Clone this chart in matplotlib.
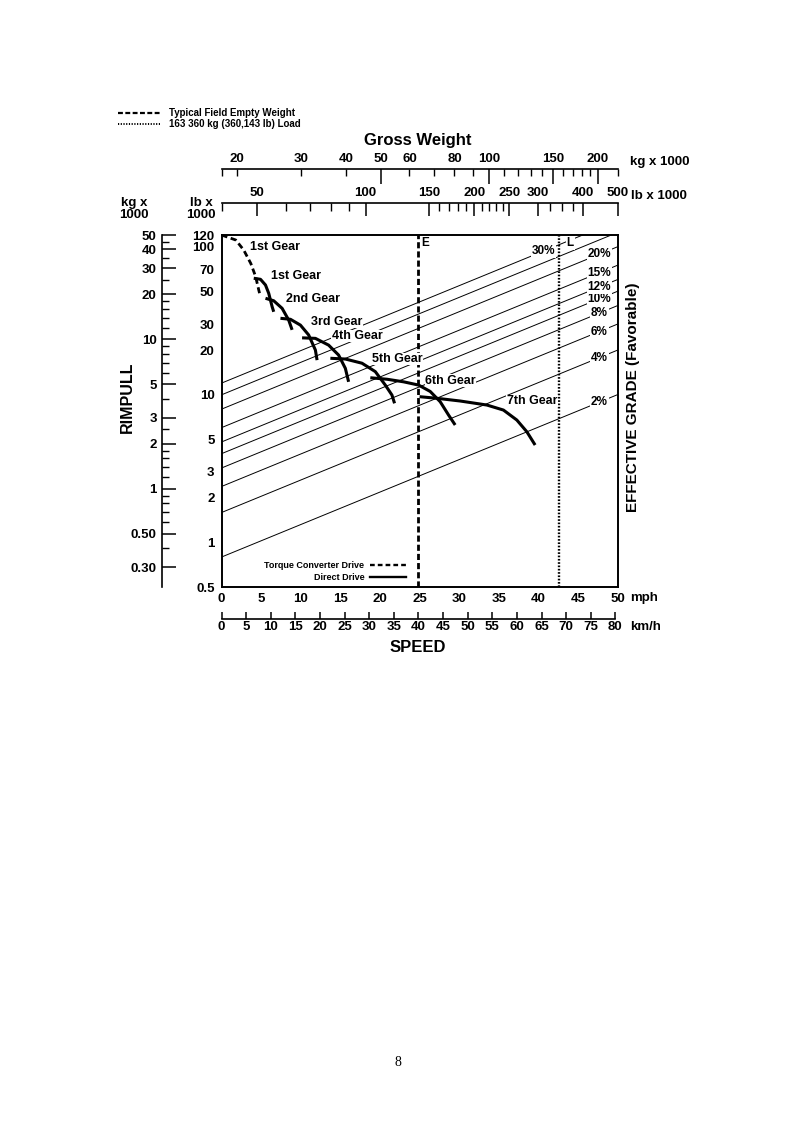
import matplotlib
matplotlib.use("Agg")
import matplotlib.pyplot as plt
from matplotlib import font_manager
from matplotlib.lines import Line2D
from matplotlib.ticker import FixedLocator, FixedFormatter, NullFormatter, NullLocator

# use a narrow face when one is installed
_names = {f.name for f in font_manager.fontManager.ttflist}
FONT = "Liberation Sans Narrow" if "Liberation Sans Narrow" in _names else "Liberation Sans"
plt.rcParams["font.family"] = [FONT, "DejaVu Sans"]
plt.rcParams["font.weight"] = "bold"

KG_PER_LB = 0.45359
KMH_PER_MPH = 1.609344

# speed scales
MPH_LIM = (0, 50)
MPH_TICKS = [0, 5, 10, 15, 20, 25, 30, 35, 40, 45, 50]
KMH_TICKS = list(range(0, 85, 5))

# rimpull scales (x 1000)
RIMPULL_LB_LIM = (0.5, 120)
RIMPULL_LB_TICKS = [0.5, 1, 2, 3, 5, 10, 20, 30, 50, 70, 100, 120]
RIMPULL_LB_LABELS = ["0.5", "1", "2", "3", "5", "10", "20", "30", "50", "70", "100", "120"]
RIMPULL_KG_LIM = (0.221, 50)
RIMPULL_KG_TICKS = [0.3, 0.5, 1, 2, 3, 5, 10, 20, 30, 40, 50]
RIMPULL_KG_LABELS = ["0.30", "0.50", "1", "2", "3", "5", "10", "20", "30", "40", "50"]
RIMPULL_KG_MINOR = [0.4, 0.6, 0.7, 0.8, 0.9, 1.2, 1.4, 1.6, 1.8, 2.5, 4, 6, 7, 8, 9,
                    12, 14, 16, 18, 25, 35, 45]

# gross weight scales (x 1000)
GW_LB_LIM = (39.85, 500)
GW_KG_LIM = (GW_LB_LIM[0] * KG_PER_LB, GW_LB_LIM[1] * KG_PER_LB)
GW_KG_LONG = [50, 100, 150, 200]
GW_KG_SHORT = [20, 30, 40, 60, 70, 80, 90, 110, 120, 130, 140, 160, 170, 180, 190]
GW_KG_SHORT_LABELED = [20, 30, 40, 60, 80]
GW_LB_LONG = [50, 100, 150, 200, 250, 300, 400, 500]
GW_LB_SHORT = [60, 70, 80, 90, 160, 170, 180, 190, 210, 220, 230, 240, 325, 350, 375]

EMPTY_GW_LB = 140
LOADED_GW_LB = 344

# effective grade lines (%): rimpull = grade * gross weight
GRADES = [2, 4, 6, 8, 10, 12, 15, 20, 25, 30]
GRADES_RIGHT_LABEL = [2, 4, 6, 8, 10, 12, 15, 20]
GRADE_TOP_LABEL = 30

# rimpull curves, speed in mph, rimpull in lb x 1000
TC1_MPH = [0.0, 1.8, 2.8, 3.7, 4.3, 4.7, 4.8]
TC1_RP = [120, 111, 95, 77, 63, 51, 48.5]
G1_MPH = [4.07, 4.92, 5.55, 5.96, 6.39, 6.59]
G1_RP = [61.2, 60.2, 55.1, 48.4, 39.3, 36.3]
G2_MPH = [5.55, 6.59, 7.65, 8.48, 8.91]
G2_RP = [44.8, 43.1, 38.3, 31.9, 27.4]
G3_MPH = [7.44, 8.70, 9.96, 11.0, 11.85, 12.06]
G3_RP = [32.8, 32.3, 29.5, 25.3, 20.0, 17.1]
G4_MPH = [10.17, 11.85, 13.52, 14.78, 15.63, 16.04]
G4_RP = [24.2, 24.0, 21.6, 18.5, 15.05, 12.2]
G5_MPH = [13.74, 15.63, 17.73, 19.41, 20.67, 21.51, 21.84]
G5_RP = [17.6, 17.4, 16.3, 14.3, 11.6, 9.93, 8.73]
G6_MPH = [18.78, 20.89, 22.98, 24.87, 26.34, 27.6, 28.65, 29.49]
G6_RP = [13.0, 12.7, 12.2, 11.6, 10.5, 8.95, 7.28, 6.23]
G7_MPH = [25.0, 27.19, 30.12, 33.49, 35.58, 37.27, 38.53, 39.58]
G7_RP = [9.68, 9.44, 9.05, 8.50, 7.86, 6.73, 5.61, 4.56]

GEAR_NAMES = ["1st Gear", "1st Gear", "2nd Gear", "3rd Gear", "4th Gear",
              "5th Gear", "6th Gear", "7th Gear"]
GEAR_LABEL_MPH = [3.6, 6.3, 8.1, 11.3, 13.9, 19.0, 25.7, 36.0]
GEAR_LABEL_RP = [99.5, 63.3, 44.3, 31.1, 24.9, 17.4, 12.4, 9.05]


W_PX, H_PX = 794, 1122


def fx(px):
    return px / W_PX


def fy(py):
    return 1 - py / H_PX


fig = plt.figure(figsize=(7.94, 11.22), dpi=100)
fig.patch.set_facecolor("white")

L, R = fx(221.5), fx(617.7)
B, T = fy(587), fy(235)

# grade lines live on gross weight x rimpull (both log)
axw = fig.add_axes([L, B, R - L, T - B])
axw.set_xscale("log")
axw.set_yscale("log")
axw.set_xlim(GW_LB_LIM)
axw.set_ylim(RIMPULL_LB_LIM)
axw.axis("off")
axw.set_zorder(1)

white = dict(facecolor="white", edgecolor="none", pad=0.6)
for g in GRADES:
    axw.plot(GW_LB_LIM, [g / 100 * w for w in GW_LB_LIM], color="black", lw=0.7)
for g in GRADES_RIGHT_LABEL:
    axw.text(445, g / 100 * 445, f"{g}%", ha="center", va="center", fontsize=8.5,
             bbox=white, zorder=3)
axw.text(312, GRADE_TOP_LABEL / 100 * 312, f"{GRADE_TOP_LABEL}%", ha="center",
         va="center", fontsize=8.5, bbox=white, zorder=3)

axw.axvline(EMPTY_GW_LB, color="black", lw=2.0, ls=(0, (2.2, 1.1)), zorder=4)
axw.axvline(LOADED_GW_LB, color="black", lw=1.7, ls=(0, (0.7, 0.7)), zorder=4)
axw.annotate("E", (EMPTY_GW_LB, 106), xytext=(2, 0), textcoords="offset points",
             ha="left", va="center", fontsize=8.5, zorder=5)
axw.annotate("L", (LOADED_GW_LB, 106), xytext=(8, 0), textcoords="offset points",
             ha="center", va="center", fontsize=8.5, bbox=white, zorder=5)

# rimpull curves on speed x rimpull
ax = fig.add_axes([L, B, R - L, T - B])
ax.patch.set_visible(False)
ax.set_zorder(2)
ax.set_xlim(MPH_LIM)
ax.set_yscale("log")
ax.set_ylim(RIMPULL_LB_LIM)

ax.plot(TC1_MPH, TC1_RP, color="black", lw=2.0, ls=(0, (2.2, 1.3)))
for xs, ys in [(G1_MPH, G1_RP), (G2_MPH, G2_RP), (G3_MPH, G3_RP), (G4_MPH, G4_RP),
               (G5_MPH, G5_RP), (G6_MPH, G6_RP), (G7_MPH, G7_RP)]:
    ax.plot(xs, ys, color="black", lw=2.2, solid_capstyle="butt")

for name, x, y in zip(GEAR_NAMES, GEAR_LABEL_MPH, GEAR_LABEL_RP):
    ax.text(x, y, name, ha="left", va="center", fontsize=9,
            bbox=dict(facecolor="white", edgecolor="none", pad=0.3))

ax.xaxis.set_major_locator(FixedLocator(MPH_TICKS))
ax.set_xticklabels([str(v) for v in MPH_TICKS])
ax.yaxis.set_major_locator(FixedLocator(RIMPULL_LB_TICKS))
ax.yaxis.set_major_formatter(FixedFormatter(RIMPULL_LB_LABELS))
ax.yaxis.set_minor_locator(NullLocator())
ax.yaxis.set_minor_formatter(NullFormatter())
ax.tick_params(axis="x", length=0, pad=4, labelsize=9.5)
ax.tick_params(axis="y", length=0, pad=5, labelsize=9.5)
for s in ax.spines.values():
    s.set_linewidth(1.4)

handles = [Line2D([], [], color="black", lw=1.7, ls=(0, (2.0, 1.3))),
           Line2D([], [], color="black", lw=1.7)]
ax.legend(handles, ["Torque Converter Drive", "Direct Drive"], loc="lower right",
          bbox_to_anchor=((405.7 - 221.5) / 396.2, 0.015), markerfirst=False,
          frameon=False, fontsize=6.5, handlelength=4.0, handletextpad=0.6,
          labelspacing=0.3, borderpad=0, borderaxespad=0)

# kg rimpull scale on the far left
akg = fig.add_axes([fx(162.3), B, 0.0001, T - B])
akg.set_yscale("log")
akg.set_ylim(RIMPULL_KG_LIM)
akg.set_xticks([])
for side in ["top", "right", "bottom"]:
    akg.spines[side].set_visible(False)
akg.spines["left"].set_linewidth(1.2)
akg.yaxis.set_major_locator(FixedLocator(RIMPULL_KG_TICKS))
akg.yaxis.set_major_formatter(FixedFormatter(RIMPULL_KG_LABELS))
akg.yaxis.set_minor_locator(FixedLocator(RIMPULL_KG_MINOR))
akg.yaxis.set_minor_formatter(NullFormatter())
akg.tick_params(axis="y", which="major", direction="in", length=10, width=1.1,
                pad=4, labelsize=9.5)
akg.tick_params(axis="y", which="minor", direction="in", length=5, width=1.0)

# gross weight scales on top
def weight_axis(y_px, lim, long_ticks, short_ticks, short_labeled, long_len, short_len):
    a = fig.add_axes([L, fy(y_px), R - L, 0.0001])
    a.set_xscale("log")
    a.set_xlim(lim)
    a.set_yticks([])
    for side in ["left", "right", "bottom"]:
        a.spines[side].set_visible(False)
    a.spines["top"].set_linewidth(1.2)
    a.xaxis.set_ticks_position("top")
    a.xaxis.set_major_locator(FixedLocator(long_ticks))
    a.xaxis.set_major_formatter(FixedFormatter([str(v) for v in long_ticks]))
    minor = [lim[0]] + short_ticks + [lim[1]]
    a.xaxis.set_minor_locator(FixedLocator(minor))
    a.xaxis.set_minor_formatter(FixedFormatter(
        [str(v) if v in short_labeled else "" for v in minor]))
    a.tick_params(axis="x", which="major", direction="in", length=long_len, width=1.1,
                  top=True, bottom=False, labeltop=True, labelbottom=False,
                  pad=3, labelsize=9.5)
    a.tick_params(axis="x", which="minor", direction="in", length=short_len, width=1.0,
                  top=True, bottom=False, labeltop=True, labelbottom=False,
                  pad=3, labelsize=9.5)
    return a


weight_axis(169.3, GW_KG_LIM, GW_KG_LONG, GW_KG_SHORT, GW_KG_SHORT_LABELED, 11, 5)
weight_axis(203.3, GW_LB_LIM, GW_LB_LONG, GW_LB_SHORT, [], 9.5, 5.5)

# km/h scale under the speed axis
akm = fig.add_axes([L, fy(619.3), R - L, 0.0001])
akm.set_xlim(MPH_LIM[0] * KMH_PER_MPH, MPH_LIM[1] * KMH_PER_MPH)
akm.set_yticks([])
for side in ["left", "right", "top"]:
    akm.spines[side].set_visible(False)
akm.spines["bottom"].set_bounds(KMH_TICKS[0], KMH_TICKS[-1])
akm.spines["bottom"].set_linewidth(1.2)
akm.xaxis.set_major_locator(FixedLocator(KMH_TICKS))
akm.set_xticklabels([str(v) for v in KMH_TICKS])
akm.tick_params(axis="x", direction="in", length=5, width=1.1, pad=1.5, labelsize=9.5)

# titles and unit labels
fig.text(fx(418), fy(140), "Gross Weight", ha="center", va="center", fontsize=12)
fig.text(fx(418), fy(648), "SPEED", ha="center", va="center", fontsize=12)
fig.text(fx(127), fy(397), "RIMPULL", ha="center", va="center", rotation=90, fontsize=11.5)
fig.text(fx(633), fy(397), "EFFECTIVE GRADE (Favorable)", ha="center", va="center",
         rotation=90, fontsize=11)
fig.text(fx(630), fy(162), "kg x 1000", ha="left", va="center", fontsize=9.5)
fig.text(fx(631), fy(196), "lb x 1000", ha="left", va="center", fontsize=9.5)
fig.text(fx(630), fy(598), "mph", ha="left", va="center", fontsize=9.5)
fig.text(fx(630), fy(627), "km/h", ha="left", va="center", fontsize=9.5)
fig.text(fx(134), fy(209), "kg x\n1000", ha="center", va="center", fontsize=9.5,
         linespacing=1.0)
fig.text(fx(201), fy(209), "lb x\n1000", ha="center", va="center", fontsize=9.5,
         linespacing=1.0)

top_handles = [Line2D([], [], color="black", lw=1.6, ls=(0, (2.2, 1.1))),
               Line2D([], [], color="black", lw=1.4, ls=(0, (0.6, 0.8)))]
fig.legend(top_handles, ["Typical Field Empty Weight", "163 360 kg (360,143 lb) Load"],
           loc="upper left", bbox_to_anchor=(fx(118), fy(108)), frameon=False,
           fontsize=7, handlelength=4.3, handletextpad=0.9, labelspacing=0.15,
           borderpad=0, borderaxespad=0)

fig.text(fx(398), fy(1063), "8", ha="center", va="center", fontsize=10,
         family="Liberation Serif", weight="normal")

fig.savefig("out.png", dpi=100)
